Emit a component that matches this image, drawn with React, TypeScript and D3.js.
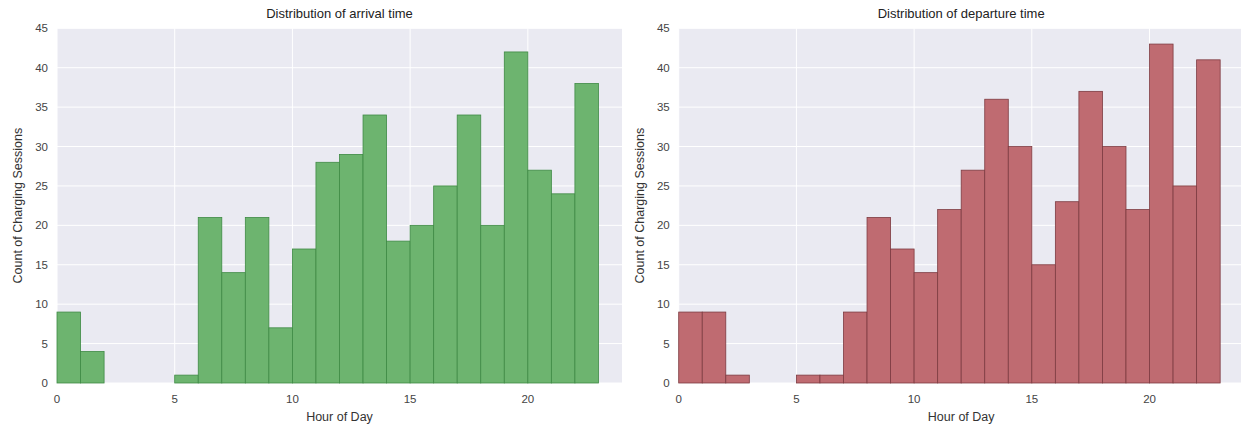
import React from "react";
import * as d3 from "d3";

// Hourly bins (0..22 → bin [h, h+1))
const hours: number[] = d3.range(0, 23);
const arrivalCounts: number[] = [9, 4, 0, 0, 0, 1, 21, 14, 21, 7, 17, 28, 29, 34, 18, 20, 25, 34, 20, 42, 27, 24, 38];
const departureCounts: number[] = [9, 9, 1, 0, 0, 1, 1, 9, 21, 17, 14, 22, 27, 36, 30, 15, 23, 37, 30, 22, 43, 25, 41];
const xTicks: number[] = [0, 5, 10, 15, 20];
const yTicks: number[] = [0, 5, 10, 15, 20, 25, 30, 35, 40, 45];

const W = 1241;
const H = 429;
const TOP = 28.3;
const BOTTOM = 383;
const PLOT_W = 565;
const FONT = "'Liberation Sans', Arial, sans-serif";

interface PanelProps {
  left: number;
  counts: number[];
  title: string;
  fill: string;
  stroke: string;
}

function Panel({ left, counts, title, fill, stroke }: PanelProps) {
  const x = d3.scaleLinear().domain([0, 24]).range([left, left + PLOT_W]);
  const y = d3.scaleLinear().domain([0, 45]).range([BOTTOM, TOP]);
  const cx = left + PLOT_W / 2;
  return (
    <g>
      <rect x={left} y={TOP} width={PLOT_W} height={BOTTOM - TOP} fill="#eaeaf2" />
      {yTicks.map((t) => (
        <line key={"gy" + t} x1={left} x2={left + PLOT_W} y1={y(t)} y2={y(t)} stroke="#ffffff" strokeWidth={1} />
      ))}
      {xTicks.map((t) => (
        <line key={"gx" + t} x1={x(t)} x2={x(t)} y1={TOP} y2={BOTTOM} stroke="#ffffff" strokeWidth={1} />
      ))}
      {hours.map((h, i) =>
        counts[i] > 0 ? (
          <rect
            key={"b" + h}
            x={x(h)}
            y={y(counts[i])}
            width={x(h + 1) - x(h)}
            height={y(0) - y(counts[i])}
            fill={fill}
            stroke={stroke}
            strokeWidth={0.8}
          />
        ) : null
      )}
      {yTicks.map((t) => (
        <text key={"ty" + t} x={left - 9} y={y(t)} dy="0.35em" textAnchor="end" fontSize={11.5} fill="#444">
          {t}
        </text>
      ))}
      {xTicks.map((t) => (
        <text key={"tx" + t} x={x(t)} y={BOTTOM + 16} dy="0.35em" textAnchor="middle" fontSize={11.5} fill="#444">
          {t}
        </text>
      ))}
      <text x={cx} y={18} textAnchor="middle" fontSize={13} fill="#222">
        {title}
      </text>
      <text x={cx} y={421} textAnchor="middle" fontSize={12.5} fill="#333">
        Hour of Day
      </text>
      <text
        transform={`translate(${left - 39},${(TOP + BOTTOM) / 2}) rotate(-90)`}
        textAnchor="middle"
        dy="0.35em"
        fontSize={12.5}
        fill="#333"
      >
        Count of Charging Sessions
      </text>
    </g>
  );
}

export default function App() {
  return (
    <svg width={W} height={H} style={{ display: "block", position: "absolute", left: 0, top: 0 }} fontFamily={FONT}>
      <rect width={W} height={H} fill="#ffffff" />
      <Panel left={57} counts={arrivalCounts} title="Distribution of arrival time" fill="#6db46f" stroke="#3f8a45" />
      <Panel left={678.7} counts={departureCounts} title="Distribution of departure time" fill="#bf6b71" stroke="#7d3b41" />
    </svg>
  );
}
